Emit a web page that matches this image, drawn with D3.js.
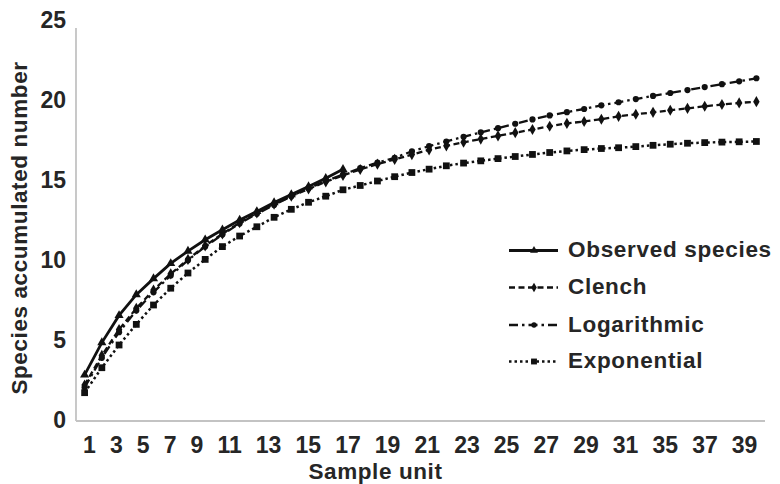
<!DOCTYPE html>
<html><head><meta charset="utf-8">
<script src="https://cdn.jsdelivr.net/npm/d3@7"></script>
<style>
body{margin:0;background:#fff}
text{font-family:"Liberation Sans",Arial,sans-serif;font-weight:bold;fill:#262626}
</style>
</head><body>
<svg id="chart" width="780" height="484"></svg>
<script>
// ---- data ----
const samples = [1,2,3,4,5,6,7,8,9,10,11,12,13,14,15,16,17,18,19,20,
                 21,22,23,24,25,26,27,28,29,30,31,32,33,34,35,36,37,38,39,40];
const xTickLabels = ["1","3","5","7","9","11","13","15","17","19","21","23","25","27","29","31","35","37","39"];
const yTicks = [0,5,10,15,20,25];
const observed = [2.88,4.9,6.6,7.9,8.9,9.85,10.62,11.33,11.95,12.56,13.1,13.65,14.15,14.65,15.17,15.73];
const clench = [2.25,4.1,5.72,7.04,8.18,9.2,10.1,10.95,11.7,12.4,13.0,13.55,14.05,14.5,14.95,15.35,
                15.72,16.05,16.35,16.65,16.95,17.2,17.42,17.62,17.82,18.02,18.22,18.42,18.6,18.72,
                18.86,19.04,19.17,19.29,19.42,19.54,19.67,19.78,19.88,19.96];
const logarithmic = [2.1,3.95,5.55,6.9,8.05,9.1,10.05,10.9,11.65,12.35,12.95,13.5,14.05,14.55,15.0,15.4,
                15.8,16.15,16.45,16.85,17.18,17.47,17.76,18.04,18.3,18.58,18.85,19.1,19.3,19.5,
                19.73,19.92,20.12,20.32,20.5,20.68,20.87,21.05,21.23,21.42];
const exponential = [1.77,3.33,4.75,6.04,7.25,8.3,9.25,10.1,10.9,11.56,12.14,12.73,13.23,13.67,14.05,14.45,
                14.72,15.0,15.27,15.53,15.74,15.95,16.12,16.26,16.4,16.53,16.66,16.78,16.88,16.96,
                17.03,17.08,17.15,17.23,17.3,17.36,17.4,17.43,17.45,17.47];
const seriesNames = ["Observed species","Clench","Logarithmic","Exponential"];

// ---- layout ----
const svg = d3.select("#chart");
const plotLeft = 76, plotRight = 765, plotBottom = 421, plotTop = 21, axisTopPad = 7;
const x = d3.scalePoint().domain(samples).range([plotLeft, plotRight]).padding(0.5);
const y = d3.scaleLinear().domain([0, 25]).range([plotBottom, plotTop]);
const axisColor = "#c3c3c3";

// y axis labels
const yAxis = svg.append("g").attr("transform", `translate(${plotLeft},0)`)
  .call(d3.axisLeft(y).tickValues(yTicks).tickSize(0).tickPadding(10));
yAxis.select(".domain").remove();
yAxis.selectAll("text").attr("font-size", 23).attr("dy", "0.28em")
  .style("font-family", '"Liberation Sans",Arial,sans-serif').style("font-weight", "bold").attr("fill", "#262626");

// axis lines
svg.append("line").attr("x1", plotLeft).attr("x2", plotLeft).attr("y1", y(0)).attr("y2", y(25) + axisTopPad)
  .attr("stroke", axisColor).attr("stroke-width", 1.8);
svg.append("line").attr("x1", plotLeft).attr("x2", plotRight).attr("y1", y(0)).attr("y2", y(0))
  .attr("stroke", axisColor).attr("stroke-width", 1.8);

// x tick labels: justified between first and last sample points
const xl = svg.append("g");
const labs = xl.selectAll("text").data(xTickLabels).join("text")
  .attr("font-size", 23).attr("text-anchor", "middle").attr("y", y(0) + 32).text(d => d);
const widths = labs.nodes().map(n => n.getComputedTextLength());
const L = x(samples[0]) - 1.5, R = x(samples[samples.length - 1]) + 1;
const gap = (R - L - d3.sum(widths)) / (widths.length - 1);
let cur = L;
labs.each(function(d, i) {
  d3.select(this).attr("x", cur + widths[i] / 2);
  cur += widths[i] + gap;
});

// axis titles
svg.append("text").attr("x", (plotLeft + plotRight) / 2 - 45).attr("y", 479).attr("text-anchor", "middle")
  .attr("font-size", 22.5).attr("letter-spacing", 0.6).text("Sample unit");
svg.append("text").attr("transform", `translate(27,228) rotate(-90)`).attr("text-anchor", "middle")
  .attr("font-size", 22.5).attr("letter-spacing", 0.6).text("Species accumulated number");

// ---- series ----
const styles = [
  {vals: observed, dash: null, width: 2.8, sym: d3.symbolTriangle, size: 36},
  {vals: clench, dash: "6,3.5", width: 2.3, sym: d3.symbolDiamond, size: 36},
  {vals: logarithmic, dash: "9,4,2.5,4", width: 2.3, sym: d3.symbolCircle, size: 30},
  {vals: exponential, dash: "2.5,3", width: 2.5, sym: d3.symbolSquare, size: 46}
];
const line = d3.line().x((d, i) => x(samples[i])).y(d => y(d));
const plot = svg.append("g");
[3, 2, 1, 0].forEach(k => {
  const s = styles[k];
  plot.append("path").datum(s.vals).attr("d", line).attr("fill", "none")
    .attr("stroke", "#111").attr("stroke-width", s.width)
    .attr("stroke-dasharray", s.dash);
  plot.append("g").selectAll("path").data(s.vals).join("path")
    .attr("transform", (d, i) => `translate(${x(samples[i])},${y(d)})`)
    .attr("d", d3.symbol().type(s.sym).size(s.size)).attr("fill", "#111");
});

// ---- legend ----
const legend = svg.append("g").attr("transform", "translate(509,0)");
const rowBase = [257, 294, 331.5, 368];
seriesNames.forEach((name, k) => {
  const s = styles[k];
  const g = legend.append("g").attr("transform", `translate(0,${rowBase[k]})`);
  g.append("line").attr("x1", 0).attr("x2", 49).attr("y1", -6.5).attr("y2", -6.5)
    .attr("stroke", "#111").attr("stroke-width", s.width).attr("stroke-dasharray", s.dash);
  g.append("path").attr("transform", "translate(25,-6.5)")
    .attr("d", d3.symbol().type(s.sym).size(s.size * 0.75)).attr("fill", "#111");
  g.append("text").attr("x", 59).attr("y", 0).attr("font-size", 22.5).attr("letter-spacing", 0.7).text(name);
});
</script>
</body></html>
